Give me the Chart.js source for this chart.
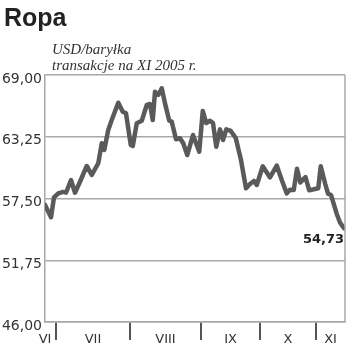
<!DOCTYPE html>
<html>
<head>
<meta charset="utf-8">
<script src="https://cdn.jsdelivr.net/npm/chart.js@4.4.1/dist/chart.umd.min.js"></script>
<style>
  body { margin: 0; background: #fff; }
  #box { position: relative; width: 350px; height: 355px; }
  #tytul { position: absolute; left: 4px; top: 3px; font: bold 25px "Liberation Sans", Arial, sans-serif; color: #222; }
  #opis { position: absolute; left: 52px; top: 41px; font: italic 15px/16px "Liberation Serif", serif; color: #333; }
</style>
</head>
<body>
<div id="box">
  <canvas id="wykres" width="350" height="355"></canvas>
  <div id="tytul">Ropa</div>
  <div id="opis">USD/baryłka<br>transakcje na XI 2005 r.</div>
</div>
<script>
// sesje od konca czerwca do listopada 2005 (numer sesji)
const sesje = [0, 2.4, 3.6, 5.3, 7.3, 8.4, 10.4, 12, 14, 16.7, 18.7, 21.3, 22.7, 23.7, 25.3, 26.7,
  29.3, 31.1, 32.4, 34.3, 35.1, 36.7, 38.7, 40.7, 42, 43.1, 44, 45.3, 46.7, 48, 49.7, 50.7,
  52.4, 54, 55.3, 56.9, 59.2, 61.7, 63.1, 64.5, 66, 67.2, 68.5, 70, 71.2, 72.5, 74.3, 76.3,
  78.4, 80.4, 82, 83.6, 84.7, 87.1, 90, 92.7, 94.7, 96.7, 98, 99.5, 100.8, 102.1, 104.2,
  105.7, 107.9, 109.3, 110.3, 112.1, 113.2, 114.4, 116.7, 118, 119.6];
const ceny = [56.9, 55.75, 57.61, 57.98, 58.11, 58.04, 59.22, 58.04, 59.06, 60.53, 59.69, 60.78, 62.64, 62.02, 63.88, 64.81,
  66.42, 65.58, 65.43, 62.48, 62.39, 64.5, 64.74, 66.21, 66.3, 64.81, 67.44, 67.14, 67.76, 66.36, 64.74, 64.65,
  63.01, 63.11, 62.64, 61.55, 63.41, 61.86, 65.65, 64.53, 64.74, 64.53, 62.32, 63.94, 62.95, 63.94, 63.79, 63.13,
  61.08, 58.45, 58.85, 59.13, 58.76, 60.5, 59.46, 60.57, 59.22, 57.98, 58.31, 58.29, 60.27, 58.99, 59.5,
  58.26, 58.38, 58.45, 60.5, 58.85, 57.95, 57.83, 56.06, 55.27, 54.73];

const miesiace = ['VI', 'VII', 'VIII', 'IX', 'X', 'XI'];
const srodki = [0, 19.2, 48.2, 74.2, 97.2, 114.2];   // polozenie podpisu miesiaca
const granice = [4.4, 34, 62.4, 86, 108.4];          // poczatek kolejnego miesiaca
const poziomy = [46, 51.75, 57.5, 63.25, 69];

const fmt = v => v.toFixed(2).replace('.', ',');

// ramka wykresu + podpis ostatniej wartosci
const ramka = {
  id: 'ramka',
  afterDraw(chart) {
    const { ctx, chartArea: a } = chart;
    ctx.save();
    ctx.strokeStyle = '#a8a8a8';
    ctx.lineWidth = 1.5;
    ctx.beginPath();
    ctx.moveTo(a.right, a.top);
    ctx.lineTo(a.right, a.bottom);
    ctx.stroke();
    const meta = chart.getDatasetMeta(0);
    const p = meta.data[meta.data.length - 1];
    ctx.fillStyle = '#222';
    ctx.font = 'bold 13px "DejaVu Sans", sans-serif';
    ctx.textAlign = 'right';
    ctx.textBaseline = 'top';
    ctx.fillText(fmt(ceny[ceny.length - 1]), p.x, p.y + 5);
    ctx.restore();
  }
};

new Chart(document.getElementById('wykres'), {
  type: 'line',
  data: {
    datasets: [{
      data: sesje.map((s, i) => ({ x: s, y: ceny[i] })),
      borderColor: '#5a5a5a',
      borderWidth: 4.5,
      borderJoinStyle: 'round',
      borderCapStyle: 'round',
      pointRadius: 0,
      tension: 0,
    }]
  },
  options: {
    responsive: false,
    animation: false,
    layout: { padding: { top: 75, right: 5, left: 0, bottom: 0 } },
    plugins: { legend: { display: false }, tooltip: { enabled: false } },
    scales: {
      x: {
        type: 'linear',
        min: 0,
        max: 120,
        afterBuildTicks: s => { s.ticks = granice.concat(srodki).map(v => ({ value: v })); },
        afterFit: s => { s.height = 33; },
        grid: {
          drawOnChartArea: false,
          tickLength: 18,
          lineWidth: 2,
          tickColor: c => granice.includes(c.tick.value) ? '#555' : 'rgba(0,0,0,0)',
        },
        border: { color: '#a8a8a8', width: 1.5 },
        ticks: {
          autoSkip: false,
          maxRotation: 0,
          padding: -8,
          color: '#333',
          font: { family: 'DejaVu Sans', size: 13 },
          callback: v => { const i = srodki.indexOf(v); return i >= 0 ? miesiace[i] : ''; }
        }
      },
      y: {
        min: 46,
        max: 69,
        afterBuildTicks: s => { s.ticks = poziomy.map(v => ({ value: v })); },
        afterFit: s => { s.width = 45; },
        grid: { color: '#a8a8a8', lineWidth: 1.5, drawTicks: false },
        border: { color: '#a8a8a8', width: 1.5 },
        ticks: {
          padding: 3,
          labelOffset: 4,
          color: '#333',
          font: { family: 'DejaVu Sans', size: 14 },
          callback: v => fmt(v)
        }
      }
    }
  },
  plugins: [ramka]
});
</script>
</body>
</html>
